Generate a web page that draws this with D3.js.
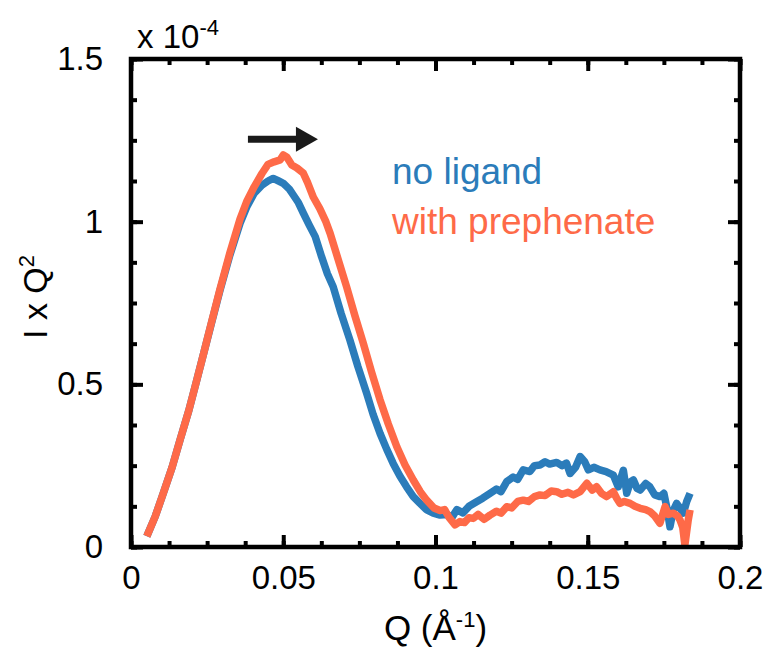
<!DOCTYPE html>
<html>
<head>
<meta charset="utf-8">
<script src="https://cdn.jsdelivr.net/npm/d3@7"></script>
<style>
  body { margin: 0; background: #fff; }
  svg text { font-family: "Liberation Sans", Arial, Helvetica, sans-serif; }
</style>
</head>
<body>
<div id="chart"></div>
<script>
// Q (1/A) and I x Q^2 (units of 1e-4)
var qNoLigand = [0.0052,0.0080,0.0106,0.0135,0.0161,0.0190,0.0216,0.0240,0.0262,0.0292,0.0325,0.0358,0.0380,0.0405,0.0430,0.0450,0.0467,0.0485,0.0500,0.0520,0.0533,0.0550,0.0566,0.0585,0.0605,0.0626,0.0645,0.0664,0.0690,0.0719,0.0745,0.0774,0.0795,0.0818,0.0840,0.0861,0.0883,0.0905,0.0927,0.0949,0.0970,0.0993,0.1015,0.1037,0.1055,0.1070,0.1090,0.1110,0.1135,0.1155,0.1179,0.1200,0.1215,0.1234,0.1255,0.1270,0.1288,0.1310,0.1325,0.1343,0.1360,0.1375,0.1398,0.1415,0.1430,0.1442,0.1460,0.1475,0.1490,0.1502,0.1520,0.1540,0.1560,0.1584,0.1600,0.1617,0.1628,0.1640,0.1650,0.1662,0.1672,0.1690,0.1704,0.1720,0.1737,0.1750,0.1760,0.1770,0.1780,0.1792,0.1803,0.1814,0.1825,0.1836]
var iNoLigand = [0.033,0.095,0.165,0.245,0.329,0.420,0.513,0.600,0.680,0.788,0.898,0.995,1.045,1.088,1.112,1.125,1.133,1.125,1.118,1.100,1.082,1.058,1.026,0.990,0.954,0.892,0.840,0.800,0.718,0.636,0.555,0.472,0.408,0.349,0.300,0.257,0.218,0.185,0.155,0.134,0.115,0.104,0.098,0.100,0.092,0.115,0.105,0.125,0.139,0.150,0.165,0.178,0.170,0.201,0.215,0.208,0.237,0.232,0.250,0.252,0.262,0.255,0.260,0.250,0.258,0.226,0.245,0.278,0.262,0.237,0.245,0.237,0.232,0.221,0.185,0.236,0.165,0.200,0.206,0.180,0.175,0.195,0.185,0.160,0.155,0.165,0.120,0.062,0.110,0.134,0.120,0.104,0.140,0.165]

var qPrephenate = [0.0052,0.0080,0.0106,0.0135,0.0161,0.0190,0.0216,0.0240,0.0262,0.0292,0.0325,0.0358,0.0380,0.0405,0.0430,0.0450,0.0470,0.0490,0.0500,0.0512,0.0528,0.0545,0.0566,0.0580,0.0599,0.0620,0.0640,0.0654,0.0680,0.0708,0.0735,0.0763,0.0790,0.0818,0.0845,0.0873,0.0900,0.0927,0.0950,0.0971,0.0995,0.1015,0.1030,0.1045,0.1064,0.1080,0.1095,0.1110,0.1124,0.1140,0.1160,0.1179,0.1200,0.1215,0.1234,0.1250,0.1270,0.1288,0.1305,0.1325,0.1343,0.1360,0.1380,0.1398,0.1415,0.1435,0.1453,0.1475,0.1497,0.1515,0.1529,0.1545,0.1562,0.1584,0.1595,0.1606,0.1620,0.1639,0.1655,0.1672,0.1690,0.1704,0.1720,0.1737,0.1754,0.1765,0.1781,0.1795,0.1803,0.1812,0.1819,0.1830,0.1836]
var iPrephenate = [0.033,0.095,0.165,0.245,0.329,0.420,0.513,0.600,0.682,0.792,0.905,1.008,1.062,1.108,1.148,1.176,1.184,1.190,1.205,1.198,1.174,1.165,1.149,1.120,1.075,1.040,1.000,0.964,0.885,0.800,0.712,0.626,0.538,0.452,0.378,0.308,0.252,0.206,0.170,0.144,0.120,0.112,0.115,0.090,0.068,0.078,0.075,0.090,0.088,0.100,0.085,0.098,0.110,0.104,0.124,0.120,0.140,0.144,0.140,0.155,0.160,0.158,0.172,0.170,0.162,0.168,0.160,0.170,0.196,0.175,0.185,0.165,0.155,0.170,0.150,0.134,0.140,0.134,0.125,0.119,0.115,0.109,0.095,0.073,0.124,0.100,0.104,0.095,0.083,0.060,0.006,0.083,0.114]

var xTicks = [0, 0.05, 0.1, 0.15, 0.2]
var xTickLabels = ["0", "0.05", "0.1", "0.15", "0.2"]
var yTicks = [0, 0.5, 1, 1.5]
var yTickLabels = ["0", "0.5", "1", "1.5"]
var legendLabels = ["no ligand", "with prephenate"]
var arrowQ = [0.0384, 0.0614]
var arrowI = 1.253

var blue = "#2b7cba", orange = "#fe6a48"

var width = 768, height = 650
var margin = {left: 131, top: 59, right: 28, bottom: 103}
var w = width - margin.left - margin.right
var h = height - margin.top - margin.bottom

var svg = d3.select("#chart").append("svg")
    .attr("width", width).attr("height", height)
var g = svg.append("g")
    .attr("transform", "translate(" + margin.left + "," + margin.top + ")")

var x = d3.scaleLinear().domain([0, 0.2]).range([0, w])
var y = d3.scaleLinear().domain([0, 1.5]).range([h, 0])

var xMinor = d3.range(0, 0.2001, 0.0125)
var yMinor = d3.range(0, 1.5001, 0.125)

function styleAxis(sel) {
  sel.select(".domain").remove()
  sel.selectAll("line").attr("stroke", "#000").attr("stroke-width", 4)
  sel.selectAll("text").attr("fill", "#000").style("font-size", "33px")
}

// minor ticks on all four sides
g.append("g").attr("transform", "translate(0," + h + ")")
  .call(d3.axisBottom(x).tickValues(xMinor).tickFormat("").tickSizeInner(-6).tickSizeOuter(0)).call(styleAxis)
g.append("g")
  .call(d3.axisTop(x).tickValues(xMinor).tickFormat("").tickSizeInner(-6).tickSizeOuter(0)).call(styleAxis)
g.append("g")
  .call(d3.axisLeft(y).tickValues(yMinor).tickFormat("").tickSizeInner(-6).tickSizeOuter(0)).call(styleAxis)
g.append("g").attr("transform", "translate(" + w + ",0)")
  .call(d3.axisRight(y).tickValues(yMinor).tickFormat("").tickSizeInner(-6).tickSizeOuter(0)).call(styleAxis)

// major ticks
g.append("g").attr("transform", "translate(0," + h + ")")
  .call(d3.axisBottom(x).tickValues(xTicks).tickFormat(function(d, i) { return xTickLabels[i] })
    .tickSizeInner(-12).tickSizeOuter(0).tickPadding(19))
  .call(styleAxis)
g.append("g")
  .call(d3.axisTop(x).tickValues(xTicks).tickFormat("").tickSizeInner(-12).tickSizeOuter(0)).call(styleAxis)
g.append("g")
  .call(d3.axisLeft(y).tickValues(yTicks).tickFormat(function(d, i) { return yTickLabels[i] })
    .tickSizeInner(-12).tickSizeOuter(0).tickPadding(28))
  .call(styleAxis)
g.append("g").attr("transform", "translate(" + w + ",0)")
  .call(d3.axisRight(y).tickValues(yTicks).tickFormat("").tickSizeInner(-12).tickSizeOuter(0)).call(styleAxis)

// curves
var line = d3.line()
  .x(function(d) { return x(d[0]) })
  .y(function(d) { return y(d[1]) })

var series = [
  {name: legendLabels[0], color: blue, pts: d3.zip(qNoLigand, iNoLigand)},
  {name: legendLabels[1], color: orange, pts: d3.zip(qPrephenate, iPrephenate)}
]

g.selectAll(".curve")
  .data(series)
  .enter()
  .append("path")
    .attr("class", "curve")
    .attr("d", function(d) { return line(d.pts) })
    .attr("fill", "none")
    .attr("stroke", function(d) { return d.color })
    .attr("stroke-width", 7.5)
    .attr("stroke-linejoin", "round")

// frame
g.append("rect")
  .attr("width", w).attr("height", h)
  .attr("fill", "none").attr("stroke", "#000").attr("stroke-width", 4.5)

// arrow
var ay = y(arrowI)
g.append("line")
  .attr("x1", x(arrowQ[0])).attr("x2", x(arrowQ[1]) - 18)
  .attr("y1", ay).attr("y2", ay)
  .attr("stroke", "#1a1a1a").attr("stroke-width", 7)
g.append("path")
  .attr("d", "M" + (x(arrowQ[1]) - 22) + "," + (ay - 12.5) +
             "L" + x(arrowQ[1]) + "," + ay +
             "L" + (x(arrowQ[1]) - 22) + "," + (ay + 12.5) + "Z")
  .attr("fill", "#1a1a1a")

// legend
g.selectAll(".legend")
  .data(series)
  .enter()
  .append("text")
    .attr("x", 261)
    .attr("y", function(d, i) { return 125 + i * 50 })
    .attr("fill", function(d) { return d.color })
    .style("font-size", "37px")
    .text(function(d) { return d.name })

// x 10^-4 multiplier
var mult = svg.append("text")
  .attr("x", 137).attr("y", 48)
  .style("font-size", "33px")
mult.append("tspan").text("x 10")
mult.append("tspan").attr("dy", -13).style("font-size", "22px").text("-4")

// axis titles
var xt = svg.append("text")
  .attr("x", margin.left + w / 2).attr("y", 640)
  .attr("text-anchor", "middle")
  .style("font-size", "35px")
xt.append("tspan").text("Q (Å")
xt.append("tspan").attr("dy", -13).style("font-size", "22px").text("-1")
xt.append("tspan").attr("dy", 13).text(")")

var yt = svg.append("text")
  .attr("transform", "translate(47," + (margin.top + h / 2 - 6) + ") rotate(-90)")
  .attr("text-anchor", "middle")
  .style("font-size", "34px")
yt.append("tspan").text("I x Q")
yt.append("tspan").attr("dy", -13).style("font-size", "22px").text("2")
</script>
</body>
</html>
